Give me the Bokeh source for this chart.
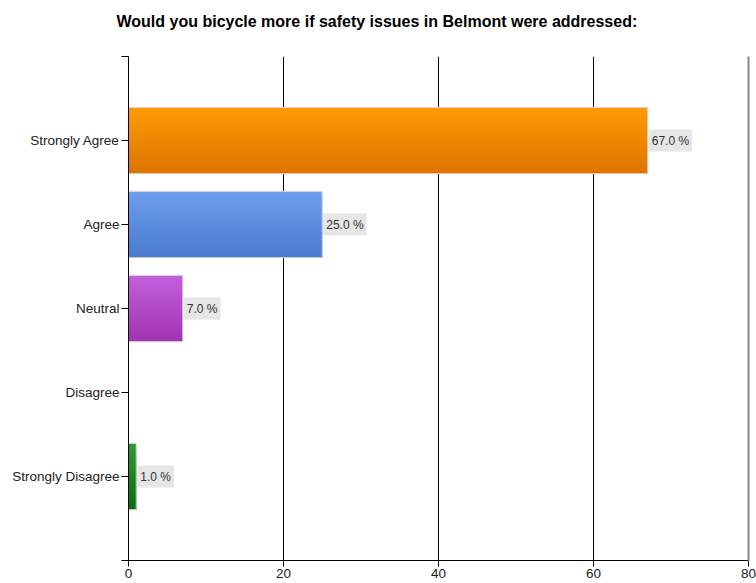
from bokeh.plotting import figure
from bokeh.models import FixedTicker, LinearAxis, Range1d, ColumnDataSource
from bokeh.embed import file_html
from bokeh.resources import INLINE
from bokeh.core.properties import value

# ---- data ----
title_text = "Would you bicycle more if safety issues in Belmont were addressed:"
categories = ["Strongly Agree", "Agree", "Neutral", "Disagree", "Strongly Disagree"]
percents = [67.0, 25.0, 7.0, 0.0, 1.0]
x_ticks = [0, 20, 40, 60, 80]
bar_colors_top = {"Strongly Agree": "#FF9A05", "Agree": "#6C9EEC", "Neutral": "#C35EDA",
                  "Disagree": "#888888", "Strongly Disagree": "#2F9A2F"}
bar_colors_bottom = {"Strongly Agree": "#E07400", "Agree": "#4A7BCF", "Neutral": "#A035B4",
                     "Disagree": "#666666", "Strongly Disagree": "#0A6E0A"}

FONT = "Liberation Sans"
n = len(categories)
positions = [n - i for i in range(n)]  # 5..1 from top
BAR_H = 0.79
STEPS = 24


def hex_to_rgb(h):
    h = h.lstrip("#")
    return tuple(int(h[i:i + 2], 16) for i in (0, 2, 4))


def mix(c1, c2, t):
    a, b = hex_to_rgb(c1), hex_to_rgb(c2)
    return "#%02x%02x%02x" % tuple(int(round(a[k] + (b[k] - a[k]) * t)) for k in range(3))


p = figure(width=756, height=583, output_backend="svg", toolbar_location=None,
           x_range=Range1d(0, 80), y_range=Range1d(0, 6),
           min_border_left=128, min_border_right=8, min_border_top=56, min_border_bottom=23,
           title=title_text + "\n ")
p.title.align = "left"
p.title.vertical_align = "top"
p.title.offset = -12
p.title.standoff = 16
p.title.text_font = FONT
p.title.text_font_size = "16px"
p.title.text_font_style = "bold"
p.title.text_color = "#000000"
p.outline_line_color = None
p.background_fill_color = "white"
p.border_fill_color = "white"

# gradient bars built from data: each strip runs from its top edge down to the bar bottom,
# drawn top-first so later strips cover earlier ones (no seams)
ys, rights, hs, cols = [], [], [], []
for cat, pos, v in zip(categories, positions, percents):
    if v <= 0:
        continue
    step = BAR_H / STEPS
    bottom = pos - BAR_H / 2
    for i in range(STEPS):
        top = pos + BAR_H / 2 - i * step
        ys.append((top + bottom) / 2)
        hs.append(top - bottom)
        rights.append(v)
        cols.append(mix(bar_colors_top[cat], bar_colors_bottom[cat], i / (STEPS - 1)))
p.hbar(y=ys, right=rights, left=0, height=hs, fill_color=cols, line_color=None)

bar_pos = [pos for pos, v in zip(positions, percents) if v > 0]
bar_val = [v for v in percents if v > 0]
p.hbar(y=bar_pos, right=bar_val, left=0, height=BAR_H, fill_color=None,
       line_color="#dddddd", line_width=1)

# value labels
lab = ColumnDataSource(dict(x=bar_val, y=bar_pos, t=["%.1f %%" % v for v in bar_val]))
p.text(x="x", y="y", text="t", source=lab, x_offset=1, text_align="left",
       text_baseline="middle", text_font=value(FONT), text_font_size="12px",
       text_color="#333333", background_fill_color="#e6e6e6", padding=(3, 4))

# axes
xa = p.xaxis[0]
xa.ticker = FixedTicker(ticks=x_ticks)
ya = p.yaxis[0]
ya.ticker = FixedTicker(ticks=list(range(0, n + 2)))
ya.major_label_overrides = {0: "", n + 1: "", **{pos: c for pos, c in zip(positions, categories)}}
for ax in (xa, ya):
    ax.axis_line_color = "#000000"
    ax.major_tick_line_color = "#000000"
    ax.major_tick_in = 0
    ax.minor_tick_line_color = None
    ax.major_label_text_font = FONT
    ax.major_label_text_font_size = "13.5px"
    ax.major_label_text_color = "#222222"
    ax.major_label_standoff = 2
xa.major_tick_out = 6
ya.major_tick_out = 7

ra = LinearAxis(ticker=FixedTicker(ticks=[]), axis_line_color="#888888", axis_line_width=2,
                major_tick_line_color=None, minor_tick_line_color=None,
                major_label_text_font_size="0px")
p.add_layout(ra, "right")

p.xgrid.grid_line_color = "#000000"
p.xgrid.ticker = FixedTicker(ticks=x_ticks)
p.ygrid.grid_line_color = None

open("out.html", "w").write(file_html(p, INLINE))
